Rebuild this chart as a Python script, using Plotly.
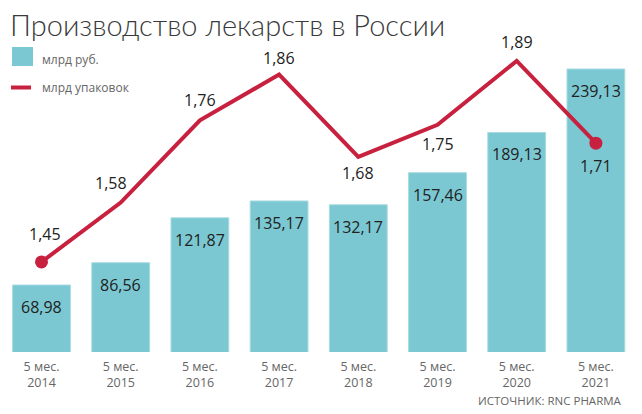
import plotly.graph_objects as go

years = ["2014", "2015", "2016", "2017", "2018", "2019", "2020", "2021"]
period_label = "5 мес."
rub_bn = [68.98, 86.56, 121.87, 135.17, 132.17, 157.46, 189.13, 239.13]
packs_bn = [1.45, 1.58, 1.76, 1.86, 1.68, 1.75, 1.89, 1.71]
tick_labels = [period_label + "<br>" + y for y in years]

def fmt(v):
    return f"{v:.2f}".replace(".", ",")

# the page body adds an 8px margin; figure is laid out in screen pixels
OFF = 8
W, H = 642 - OFF, 414 - OFF
L, R = 0, 0
T = 40 - OFF
B = H - (352 - OFF)
PW, PH = W - L - R, H - T - B

def px(sx):
    return (sx - OFF - L) / PW

def py(sy):
    return (H - B - (sy - OFF)) / PH

C0, STEP = 41.5, 79.2
xr = [(OFF + L - C0) / STEP, (OFF + L + PW - C0) / STEP]

BAR = "#7BC8D2"
RED = "#C8203F"
TXT = "#222222"
GRAY = "#666666"
FONT = "Open Sans"

idx = list(range(len(years)))

fig = go.Figure()
fig.add_trace(go.Bar(
    x=idx, y=rub_bn,
    marker=dict(color=BAR, line=dict(color="#A8DCE2", width=1)),
    width=0.73, hoverinfo="skip", showlegend=False))
fig.add_trace(go.Scatter(
    x=idx, y=packs_bn, yaxis="y2", mode="lines+markers",
    line=dict(color=RED, width=4),
    marker=dict(color=RED, opacity=1, size=[13, 0, 0, 0, 0, 0, 0, 13], line=dict(width=0)),
    hoverinfo="skip", showlegend=False))

ann = []
for i, v in enumerate(rub_bn):
    ann.append(dict(x=i, y=v, xref="x", yref="y", text=fmt(v), showarrow=False,
                    yanchor="middle", yshift=-22, font=dict(family=FONT, size=16, color=TXT)))
shifts = [(3, 28), (-10, 20), (0, 20), (0, 17), (0, -16), (0, -19), (0, 19), (0, -23)]
for i, (v, (xs, ys)) in enumerate(zip(packs_bn, shifts)):
    ann.append(dict(x=i, y=v, xref="x", yref="y2", text=fmt(v), showarrow=False,
                    yanchor="middle", xshift=xs, yshift=ys, font=dict(family=FONT, size=16, color=TXT)))

ann.append(dict(x=px(8), y=py(25), xref="paper", yref="paper", xanchor="left", yanchor="middle",
                text="Производство лекарств в России", showarrow=False,
                font=dict(family="Lato", size=29, color="#3a3a3a", weight=300)))
ann.append(dict(x=px(40), y=py(59), xref="paper", yref="paper", xanchor="left", yanchor="middle",
                text="млрд руб.", showarrow=False, font=dict(family=FONT, size=12, color=GRAY)))
ann.append(dict(x=px(40), y=py(87), xref="paper", yref="paper", xanchor="left", yanchor="middle",
                text="млрд упаковок", showarrow=False, font=dict(family=FONT, size=12, color=GRAY)))
ann.append(dict(x=px(624), y=py(401), xref="paper", yref="paper", xanchor="right", yanchor="middle",
                text="ИСТОЧНИК: RNC PHARMA", showarrow=False, font=dict(family=FONT, size=11.5, color=GRAY)))

shapes = [
    dict(type="rect", xref="paper", yref="paper", x0=px(12), x1=px(33), y0=py(66), y1=py(47),
         fillcolor=BAR, line=dict(width=0)),
    dict(type="line", xref="paper", yref="paper", x0=px(11), x1=px(31), y0=py(87.5), y1=py(87.5),
         line=dict(color=RED, width=4)),
]

fig.update_layout(
    width=W, height=H, margin=dict(l=L, r=R, t=T, b=B),
    paper_bgcolor="white", plot_bgcolor="white",
    xaxis=dict(showgrid=False, showline=False, zeroline=False, ticks="",
               tickmode="array", tickvals=idx, ticktext=tick_labels,
               ticklabelstandoff=5,
               tickfont=dict(family=FONT, size=12.5, color=GRAY), range=xr),
    yaxis=dict(range=[16.2, 16.2 + PH / 1.2695], visible=False, showgrid=False, zeroline=False),
    yaxis2=dict(range=[1.253, 1.253 + PH / 457.0], overlaying="y", visible=False,
                showgrid=False, zeroline=False),
    annotations=ann, shapes=shapes, showlegend=False,
)
fig.write_html("out.html")
